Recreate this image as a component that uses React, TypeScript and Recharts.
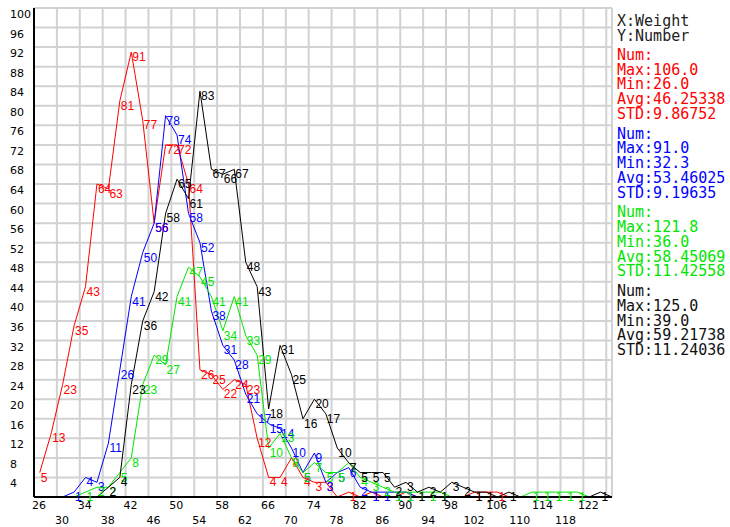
import React from "react";
import { LineChart, Line, XAxis, YAxis, CartesianGrid, LabelList } from "recharts";

const weights = [27, 29, 31, 33, 35, 37, 39, 41, 43, 45, 47, 49, 51, 53, 55, 57, 59, 61, 63, 65, 67, 69, 71, 73, 75, 77, 79, 81, 83, 85, 87, 89, 91, 93, 95, 97, 99, 101, 103, 105, 107, 109, 111, 113, 115, 117, 119, 121, 123, 125, 127];

const redCounts = [5, 13, 23, 35, 43, 64, 63, 81, 91, 77, 56, 72, 72, 64, 26, 25, 22, 24, 23, 12, 4, 4, 8, 4, 3, 3, 0, 1, 0, 1, 0, 0, 1, 0, 0, 0, 0, 0, 1, 1, 1, 0, null, null, null, null, null, null, null, null, null];
const blueCounts = [null, null, 0, 1, 4, 3, 11, 26, 41, 50, 56, 78, 74, 58, 52, 38, 31, 28, 21, 17, 15, 14, 10, 5, 9, 3, 5, 6, 2, 1, 1, 1, 1, 0, null, null, null, null, null, null, null, null, null, null, null, null, null, null, null, null, null];
const greenCounts = [null, null, null, 0, 1, 2, 2, 5, 8, 23, 29, 27, 41, 47, 45, 41, 34, 41, 33, 29, 10, 13, 8, 5, 7, 5, 5, 7, 4, 3, 2, 1, 1, 1, 1, 1, 0, 0, 0, 0, 0, 0, 0, 1, 1, 1, 1, 1, 0, null, null];
const blackCounts = [null, null, null, null, null, 0, 2, 4, 23, 36, 42, 58, 65, 61, 83, 67, 66, 67, 48, 43, 18, 31, 25, 16, 20, 17, 10, 7, 5, 5, 5, 2, 3, 1, 2, 1, 3, 2, 1, 1, 0, 1, 0, 0, 0, 0, 0, 0, 0, 1, 0];

const xTicks = [26, 30, 34, 38, 42, 46, 50, 54, 58, 62, 66, 70, 74, 78, 82, 86, 90, 94, 98, 102, 106, 110, 114, 118, 122, 126];
const yTicks = [0, 4, 8, 12, 16, 20, 24, 28, 32, 36, 40, 44, 48, 52, 56, 60, 64, 68, 72, 76, 80, 84, 88, 92, 96, 100];

const legendHeader = ["X:Weight", "Y:Number"];
const redStats = ["Num:", "Max:106.0", "Min:26.0", "Avg:46.25338", "STD:9.86752"];
const blueStats = ["Num:", "Max:91.0", "Min:32.3", "Avg:53.46025", "STD:9.19635"];
const greenStats = ["Num:", "Max:121.8", "Min:36.0", "Avg:58.45069", "STD:11.42558"];
const blackStats = ["Num:", "Max:125.0", "Min:39.0", "Avg:59.21738", "STD:11.24036"];

const RED = "#ff0000";
const BLUE = "#0000ff";
const GREEN = "#00e600";
const BLACK = "#000000";

const data = weights.map((w, i) => ({
  w,
  red: redCounts[i],
  blue: blueCounts[i],
  green: greenCounts[i],
  black: blackCounts[i],
}));

const XTick = (props: any) => {
  const { x, payload } = props;
  const v = payload.value;
  if (v > 122) return null;
  const i = xTicks.indexOf(v);
  const y = i % 2 === 0 ? 508.5 : 523.5;
  return (
    <text x={x + 5} y={y} textAnchor="middle" fontSize={11} fontFamily="DejaVu Sans" fill="#000">
      {v}
    </text>
  );
};

const YTick = (props: any) => {
  const { y, payload } = props;
  if (payload.value === 0) return null;
  return (
    <text x={10} y={y + 10} textAnchor="start" fontSize={11} fontFamily="DejaVu Sans" fill="#000">
      {payload.value}
    </text>
  );
};

const makeLabel = (color: string) => (props: any) => {
  const { x, y, value } = props;
  if (value === null || value === undefined || value === 0) return null;
  return (
    <text x={x + 1} y={y + 9} fontSize={12} fontFamily="Liberation Sans" fill={color}>
      {value}
    </text>
  );
};

const groups: { lines: string[]; color: string }[] = [
  { lines: redStats, color: RED },
  { lines: blueStats, color: BLUE },
  { lines: greenStats, color: GREEN },
  { lines: blackStats, color: "#111" },
];

export default function App() {
  return (
    <div style={{ position: "absolute", left: 0, top: 0, width: 730, height: 527, background: "#fff" }}>
      <LineChart width={730} height={527} data={data} margin={{ top: 8, right: 118, bottom: 0, left: 0 }}>
        <CartesianGrid stroke="#d2d2d2" strokeWidth={2} />
        <XAxis
          type="number"
          dataKey="w"
          domain={[26, 127]}
          ticks={xTicks}
          interval={0}
          tick={XTick}
          tickLine={false}
          axisLine={{ stroke: "#000", strokeWidth: 2 }}
          height={30}
          allowDataOverflow
        />
        <YAxis
          type="number"
          domain={[0, 100]}
          ticks={yTicks}
          interval={0}
          tick={YTick}
          tickLine={false}
          axisLine={{ stroke: "#000", strokeWidth: 2 }}
          width={34}
          allowDataOverflow
        />
        <Line dataKey="red" stroke={RED} strokeWidth={1} dot={false} isAnimationActive={false} type="linear">
          <LabelList dataKey="red" content={makeLabel(RED)} />
        </Line>
        <Line dataKey="blue" stroke={BLUE} strokeWidth={1} dot={false} isAnimationActive={false} type="linear">
          <LabelList dataKey="blue" content={makeLabel(BLUE)} />
        </Line>
        <Line dataKey="green" stroke={GREEN} strokeWidth={1} dot={false} isAnimationActive={false} type="linear">
          <LabelList dataKey="green" content={makeLabel(GREEN)} />
        </Line>
        <Line dataKey="black" stroke={BLACK} strokeWidth={1} dot={false} isAnimationActive={false} type="linear">
          <LabelList dataKey="black" content={makeLabel(BLACK)} />
        </Line>
      </LineChart>
      <svg width={730} height={527} style={{ position: "absolute", left: 0, top: 0, pointerEvents: "none" }}>
        {legendHeader.map((t, j) => (
          <text key={"h" + j} x={617} y={26 + j * 14.5} fontSize={15} fontFamily="DejaVu Sans Mono" fill="#222">
            {t}
          </text>
        ))}
        {groups.map((g, gi) =>
          g.lines.map((t, j) => (
            <text
              key={gi + "-" + j}
              x={617}
              y={60 + gi * 78.7 + j * 14.7}
              fontSize={15}
              fontFamily="DejaVu Sans Mono"
              fill={g.color}
            >
              {t}
            </text>
          ))
        )}
      </svg>
    </div>
  );
}
